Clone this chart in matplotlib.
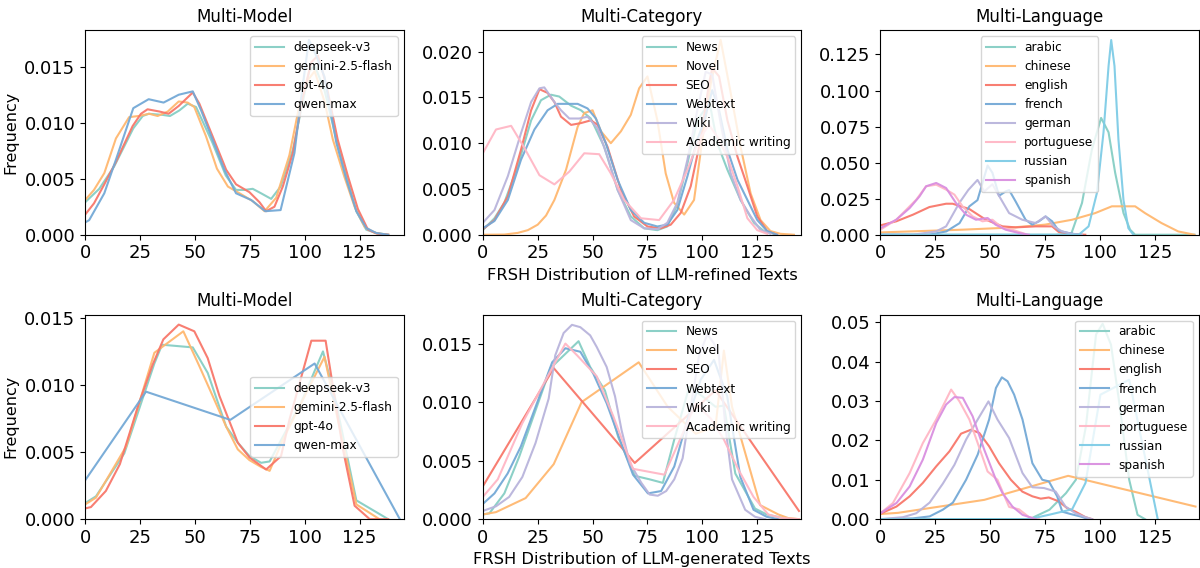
import matplotlib
matplotlib.use("Agg")
import matplotlib.pyplot as plt

# colours shared by the series of each panel
colors = ['#86CEC4', '#FFB870', '#F8776A', '#74A9D6', '#B9B4DC', '#FFB7C5', '#7ECCE6', '#D98FE0']

models = ['deepseek-v3', 'gemini-2.5-flash', 'gpt-4o', 'qwen-max']
categories = ['News', 'Novel', 'SEO', 'Webtext', 'Wiki', 'Academic writing']
languages = ['arabic', 'chinese', 'english', 'french', 'german', 'portuguese', 'russian', 'spanish']

# ---- LLM-refined, multi-model ----
ref_model_x = [
    [0, 6.4, 13.2, 21.9, 26.2, 28.9, 35.3, 38.6, 42.9, 46.7, 50.5, 58, 64, 68.7, 72.5, 76.3, 80.1, 84.7, 89, 94.6, 102, 104.5, 109, 114.4, 119, 123.5, 128, 132.6, 138],
    [0, 4, 8.7, 14, 20, 24.3, 29.2, 33, 37.6, 42.6, 46.7, 49.7, 55, 60, 65, 70.3, 76.3, 81.7, 87, 93, 97.6, 101.4, 104.5, 109, 112.8, 118, 122.7, 127.3, 132, 138],
    [0, 4, 8.7, 14, 21.6, 25.4, 28.4, 33.8, 38, 42.6, 49, 52, 58, 64.2, 68.7, 74.8, 79.4, 82.4, 86.2, 90, 94.6, 99.1, 103, 106, 109.8, 115, 119.7, 124.2, 128.8, 133, 138],
    [0, 1.8, 8.7, 14, 21.9, 28.9, 35.7, 42.6, 49, 52.8, 58, 63.4, 68.7, 75.6, 82, 89, 95.3, 98.8, 101.9, 105.2, 109, 114.4, 119, 123.5, 128, 132.6, 138],
]
ref_model_y = [
    [0.0029, 0.0041, 0.0061, 0.0095, 0.0106, 0.0108, 0.0107, 0.0106, 0.0111, 0.0117, 0.0114, 0.0082, 0.0053, 0.0040, 0.0040, 0.0041, 0.0037, 0.0032, 0.0043, 0.0076, 0.0146, 0.0151, 0.0129, 0.0085, 0.0052, 0.0021, 0.00045, 0.00015, 0],
    [0.0031, 0.0040, 0.0055, 0.0086, 0.0105, 0.0106, 0.0108, 0.0106, 0.0110, 0.0119, 0.0118, 0.0114, 0.0088, 0.0059, 0.0043, 0.0037, 0.0030, 0.0021, 0.0033, 0.0071, 0.0116, 0.0138, 0.0146, 0.0119, 0.0085, 0.0052, 0.0025, 0.0007, 0.00015, 0],
    [0.0018, 0.0028, 0.0045, 0.0065, 0.0097, 0.0108, 0.0112, 0.0110, 0.0108, 0.0115, 0.0127, 0.0117, 0.0088, 0.0058, 0.0045, 0.0038, 0.0029, 0.0021, 0.0025, 0.0043, 0.0073, 0.0123, 0.0154, 0.0160, 0.0134, 0.0085, 0.0052, 0.0023, 0.00045, 0.0001, 0],
    [0.0011, 0.0013, 0.0037, 0.0067, 0.0113, 0.0121, 0.0118, 0.0125, 0.0128, 0.0111, 0.0085, 0.0058, 0.0037, 0.0031, 0.0021, 0.0022, 0.0073, 0.0129, 0.0174, 0.0160, 0.0141, 0.0082, 0.0049, 0.0021, 0.0006, 0.00015, 0],
]

# ---- LLM-refined, multi-category ----
ref_cat_x = [
    [0, 5.3, 9.8, 15.9, 22, 26.5, 31, 34.8, 40.2, 44.7, 49.2, 55.3, 61.4, 67.4, 73.5, 79.5, 84, 88.6, 93.2, 97.7, 100.8, 103, 106.8, 111.4, 117.4, 123.5, 128, 134],
    [0, 9.8, 15.9, 20.5, 25, 28.8, 32.6, 37.9, 43.2, 46.2, 50, 53.8, 58.3, 62.9, 67.4, 71.2, 75, 79.5, 83.3, 87.1, 91.7, 96.2, 100, 103.8, 108.3, 112.9, 117.4, 122, 126.5, 131, 135.6, 141.7],
    [0, 5.3, 11.4, 17.4, 22, 25.8, 29.5, 32.6, 35.6, 40.2, 44.7, 49.2, 52.3, 56.8, 62.9, 68.9, 75, 81, 85.6, 90.2, 94.7, 99.2, 103, 104.5, 107.6, 111.4, 116, 120.5, 125, 129.5, 134],
    [0, 5.3, 11.4, 17.4, 23.5, 29.5, 34.1, 39.4, 43.2, 47.7, 51.5, 56, 61.4, 67.4, 73.5, 79.5, 84, 88.6, 93.2, 97.7, 100.8, 104.5, 107.6, 111.4, 116, 120.5, 125, 129.5, 134],
    [0, 5.3, 11.4, 17.4, 22, 25.8, 28, 32.6, 35.6, 39.4, 43.9, 47.7, 52.3, 56.8, 61.4, 67.4, 73.5, 79.5, 84, 88.6, 93.2, 97.7, 101.5, 104.5, 108.3, 112.9, 117.4, 122, 126.5, 131],
    [0, 6, 12.9, 18.9, 25.8, 32.6, 39.4, 46.2, 53, 58.3, 64.4, 72, 80.3, 87.1, 93.2, 98.5, 103, 106.8, 111.4, 116, 120.5, 125, 129.5],
]
ref_cat_y = [
    [0.0005, 0.0018, 0.0035, 0.0075, 0.0125, 0.0147, 0.0153, 0.0151, 0.0141, 0.0136, 0.0127, 0.0096, 0.0049, 0.0020, 0.0007, 0.0005, 0.0009, 0.0033, 0.0078, 0.0125, 0.0136, 0.0148, 0.0100, 0.0071, 0.0038, 0.0013, 0.0004, 0],
    [0, 0.00002, 0.0002, 0.0005, 0.0011, 0.0021, 0.0038, 0.0071, 0.0118, 0.0133, 0.0136, 0.0113, 0.0100, 0.0113, 0.0131, 0.0160, 0.0173, 0.0125, 0.0067, 0.0035, 0.0022, 0.0038, 0.0104, 0.0165, 0.0213, 0.0155, 0.0096, 0.0045, 0.0016, 0.0004, 0.0001, 0],
    [0.0006, 0.0016, 0.0042, 0.0093, 0.0136, 0.0159, 0.0155, 0.0145, 0.0129, 0.0120, 0.0122, 0.0125, 0.0120, 0.0096, 0.0049, 0.0020, 0.0009, 0.0007, 0.0011, 0.0024, 0.0053, 0.0104, 0.0165, 0.0182, 0.0173, 0.0125, 0.0085, 0.0053, 0.0020, 0.0004, 0],
    [0.0007, 0.0015, 0.0038, 0.0082, 0.0115, 0.0136, 0.0143, 0.0143, 0.0143, 0.0138, 0.0127, 0.0100, 0.0060, 0.0027, 0.0013, 0.0009, 0.0011, 0.0027, 0.0064, 0.0104, 0.0124, 0.0158, 0.0136, 0.0093, 0.0060, 0.0038, 0.0016, 0.0004, 0],
    [0.0013, 0.0027, 0.0064, 0.0111, 0.0145, 0.0160, 0.0161, 0.0145, 0.0136, 0.0127, 0.0127, 0.0129, 0.0116, 0.0085, 0.0049, 0.0016, 0.0007, 0.0006, 0.0013, 0.0035, 0.0082, 0.0136, 0.0178, 0.0175, 0.0122, 0.0067, 0.0038, 0.0020, 0.0005, 0.0001],
    [0.0089, 0.0115, 0.0119, 0.0095, 0.0065, 0.0055, 0.0069, 0.0089, 0.0088, 0.0067, 0.0038, 0.0018, 0.0016, 0.0038, 0.0071, 0.0104, 0.0120, 0.0107, 0.0085, 0.0053, 0.0018, 0.0005, 0.0001],
]

# ---- LLM-refined, multi-language ----
ref_lang_x = [
    [0, 80, 87, 91.8, 96.3, 100.5, 103.9, 106.9, 110.7, 113.7, 116, 143],
    [0, 37.4, 60, 75, 87.3, 97.8, 105.4, 109, 116, 120.5, 128, 135.6, 143],
    [0, 7.2, 14.8, 22.3, 29.9, 32.9, 40.5, 48, 55.6, 61.6, 70.7, 78.2, 81.2, 87.3, 93.3],
    [0, 22, 30, 36, 40.5, 44.2, 48.8, 51, 54, 57, 58.6, 61.6, 66.1, 69.1, 72.2, 75.2, 78.2, 81.2, 85.7, 90.3],
    [0, 14.8, 25.4, 29.9, 35.9, 40, 44.2, 47.3, 51, 54, 58.6, 64.6, 70.7, 75.2, 79, 82.7, 87.3, 91.8],
    [0, 7.2, 11.8, 16.3, 20.8, 25.4, 29.9, 33.7, 37.4, 42, 46.5, 51, 55.6, 60, 66],
    [0, 90.3, 94.8, 98.6, 101.6, 103.9, 105.1, 106.6, 108.4, 110.7, 112.9, 115.2],
    [0, 7.2, 13.3, 17.8, 20.8, 25.4, 29.9, 34.4, 39, 43.5, 48.8, 52.5, 57, 63, 67.6],
]
ref_lang_y = [
    [0, 0, 0.001, 0.022, 0.059, 0.081, 0.071, 0.043, 0.015, 0.0035, 0, 0],
    [0.0016, 0.0035, 0.005, 0.007, 0.0104, 0.015, 0.0197, 0.0197, 0.0197, 0.015, 0.0081, 0.0023, 0],
    [0.0065, 0.0093, 0.0139, 0.0192, 0.0215, 0.0215, 0.0178, 0.0104, 0.0058, 0.0051, 0.0058, 0.0058, 0.0019, 0.0005, 0],
    [0, 0, 0.0023, 0.008, 0.0197, 0.024, 0.048, 0.043, 0.027, 0.030, 0.031, 0.023, 0.0104, 0.007, 0.0093, 0.0127, 0.0093, 0.0028, 0.0012, 0],
    [0, 0, 0.0023, 0.0058, 0.022, 0.031, 0.038, 0.030, 0.035, 0.027, 0.015, 0.0104, 0.0081, 0.0127, 0.0058, 0.0023, 0.0005, 0],
    [0.0035, 0.0104, 0.0174, 0.0243, 0.0336, 0.0347, 0.0313, 0.0278, 0.0197, 0.0127, 0.0093, 0.0104, 0.0046, 0.0035, 0.0005],
    [0, 0, 0.0058, 0.029, 0.071, 0.117, 0.135, 0.117, 0.066, 0.024, 0.0046, 0],
    [0.0046, 0.0104, 0.0185, 0.0266, 0.0336, 0.0359, 0.0324, 0.022, 0.0139, 0.0104, 0.0116, 0.0069, 0.0035, 0.0012, 0],
]

# ---- LLM-generated, multi-model ----
gen_model_x = [
    [0, 4.9, 17.8, 31.5, 35, 49, 55.8, 64.2, 69.5, 74.8, 80.1, 84, 98.4, 108.3, 113.6, 123.5, 138],
    [0, 4.9, 18.6, 31.5, 44.7, 52, 58, 64.2, 69.5, 74.8, 80, 84, 90, 97.6, 109, 114.4, 123.5, 134],
    [0, 2.6, 9.4, 15.8, 24.6, 30.7, 35.6, 42.6, 49.7, 55.8, 61.1, 69.5, 74.8, 82.4, 89.2, 93, 103, 109.5, 117.4, 122.7, 129.6, 138],
    [0, 27.7, 66.1, 104.5, 143.3],
]
gen_model_y = [
    [0.0012, 0.0017, 0.0049, 0.0116, 0.0130, 0.0128, 0.0109, 0.0069, 0.0057, 0.0047, 0.0042, 0.0043, 0.0087, 0.0125, 0.0092, 0.0014, 0],
    [0.0011, 0.0016, 0.0054, 0.0124, 0.0140, 0.0114, 0.0092, 0.0069, 0.0052, 0.0044, 0.0039, 0.0036, 0.0059, 0.0084, 0.0121, 0.0079, 0.0011, 0],
    [0.0008, 0.0009, 0.0021, 0.0041, 0.0087, 0.0115, 0.0134, 0.0145, 0.0140, 0.0120, 0.0092, 0.0057, 0.0046, 0.0037, 0.0047, 0.0074, 0.0133, 0.0133, 0.0052, 0.0010, 0, 0],
    [0.0029, 0.0095, 0.0074, 0.0116, 0],
]

# ---- LLM-generated, multi-category ----
gen_cat_x = [
    [0, 3, 9.8, 16.5, 30.8, 43.6, 48.9, 55.6, 61.7, 69.2, 76, 82, 87.2, 94, 100, 106, 109.8, 115, 124, 129.3, 139],
    [0, 6, 19.5, 32.3, 45, 71, 84.2, 97, 106, 109.8, 113.5, 126.3, 134.6, 139, 144],
    [0, 32.3, 69.2, 106, 144],
    [0, 5.3, 11.3, 17.3, 31.6, 37.6, 44.4, 50.4, 56.4, 62.4, 68.4, 75.2, 81.2, 87.2, 93.2, 99.2, 105.3, 111.3, 117.3, 123.3, 129.3, 134.6],
    [0, 6, 12, 18, 24, 30, 33, 36.8, 40.6, 44.4, 48.9, 51.9, 56.4, 60.2, 63.2, 66.9, 72.2, 76, 79.7, 83.5, 87.2, 91, 94.7, 98.5, 102.3, 105.3, 107.5, 110.5, 113.5, 119.5, 124, 128.6],
    [0, 6.8, 18, 37.6, 42.9, 51.9, 59.4, 68.4, 82.7, 91, 97, 103.8, 109.8, 116.5, 123.3, 130, 136, 144],
]
gen_cat_y = [
    [0.0004, 0.0005, 0.0022, 0.0053, 0.0129, 0.0152, 0.0130, 0.0110, 0.0070, 0.0037, 0.0034, 0.0031, 0.0068, 0.0113, 0.0105, 0.0096, 0.0097, 0.0039, 0.0009, 0.0004, 0],
    [0.0004, 0.0006, 0.0018, 0.0047, 0.0100, 0.0134, 0.0096, 0.0073, 0.0079, 0.0144, 0.0096, 0.0012, 0.0004, 0.0001, 0],
    [0.0028, 0.0129, 0.0048, 0.0110, 0.0007],
    [0.0013, 0.0022, 0.0039, 0.0062, 0.0134, 0.0146, 0.0143, 0.0124, 0.0099, 0.0068, 0.0038, 0.0022, 0.0024, 0.0045, 0.0085, 0.0119, 0.0136, 0.0105, 0.0036, 0.0008, 0.0002, 0],
    [0.0007, 0.0011, 0.0019, 0.0036, 0.0065, 0.0103, 0.0140, 0.0159, 0.0166, 0.0164, 0.0157, 0.0147, 0.0130, 0.0105, 0.0076, 0.0048, 0.0031, 0.0021, 0.0020, 0.0024, 0.0034, 0.0052, 0.0096, 0.0140, 0.0158, 0.0150, 0.0140, 0.0079, 0.0034, 0.0008, 0.0002, 0],
    [0.0019, 0.0034, 0.0082, 0.0150, 0.0140, 0.0122, 0.0088, 0.0043, 0.0038, 0.0073, 0.0099, 0.0086, 0.0068, 0.0042, 0.0019, 0.0004, 0.0001, 0],
]

# ---- LLM-generated, multi-language ----
gen_lang_x = [
    [0, 67.9, 77, 84.5, 89, 93.6, 98.2, 101.2, 105, 108.8, 113.3, 117.1, 120.5],
    [0, 8, 47.3, 85.5, 143.5],
    [0, 7.3, 13.3, 19.3, 25.4, 31.4, 36.7, 41.2, 45, 49.5, 54, 59.4, 64.6, 69.2, 73, 76.7, 81.3, 85, 88.8, 93.4, 96.4],
    [0, 14.8, 22.4, 28.4, 33, 39, 44.3, 49.5, 52.6, 55.3, 57.9, 60.9, 64.7, 69.2, 73.7, 76.7, 80.5, 82.8, 86.6, 91, 94.9],
    [0, 10.3, 16.3, 22.4, 28.4, 33.7, 39, 44.3, 49.2, 53.3, 58.6, 64.7, 69.2, 74.5, 79.8, 84.3, 88.8, 93.4, 96.4],
    [0, 5.7, 13.3, 19.3, 25.4, 32.2, 36, 40.5, 44.3, 48.8, 53.3, 58.6, 63.1, 67.7, 72.2],
    [0, 67.7, 76.7, 87.3, 93.4, 100.2, 113.3, 126.3],
    [0, 7.3, 13.3, 19.3, 25.4, 29.9, 33.7, 37.5, 42, 47.3, 52.6, 55.6, 60.1, 64.7, 70.7],
]
gen_lang_y = [
    [0, 0, 0.0024, 0.0066, 0.010, 0.0236, 0.0469, 0.0496, 0.0443, 0.0295, 0.0100, 0.0011, 0],
    [0.0013, 0.0016, 0.0049, 0.0110, 0.0032],
    [0.0014, 0.0032, 0.0058, 0.0092, 0.0134, 0.0172, 0.0217, 0.0227, 0.0219, 0.0185, 0.0142, 0.0100, 0.0070, 0.0058, 0.0052, 0.0055, 0.0045, 0.0028, 0.0019, 0.0005, 0],
    [0, 0.0002, 0.0007, 0.0024, 0.0042, 0.0100, 0.0164, 0.0253, 0.0333, 0.0360, 0.0350, 0.0316, 0.0253, 0.0142, 0.0100, 0.0096, 0.0058, 0.0019, 0.0013, 0.0007, 0],
    [0, 0.0005, 0.0015, 0.0042, 0.0090, 0.0138, 0.0202, 0.0253, 0.0299, 0.0253, 0.0206, 0.0117, 0.0081, 0.0079, 0.0070, 0.0032, 0.0015, 0.0005, 0],
    [0.0015, 0.0041, 0.0117, 0.0193, 0.0253, 0.0329, 0.0299, 0.0253, 0.0193, 0.0121, 0.0100, 0.0031, 0.0025, 0.0005, 0],
    [0, 0, 0.0011, 0.0025, 0.0092, 0.0316, 0.0354, 0],
    [0.0015, 0.0041, 0.0083, 0.0151, 0.0244, 0.0291, 0.0310, 0.0308, 0.0261, 0.0176, 0.0100, 0.0066, 0.0032, 0.0011, 0],
]

panels = [
    (0, 0, 'Multi-Model', models, ref_model_x, ref_model_y, 0.01827, 'upper right'),
    (0, 1, 'Multi-Category', categories, ref_cat_x, ref_cat_y, 0.02236, 'upper right'),
    (0, 2, 'Multi-Language', languages, ref_lang_x, ref_lang_y, 0.1419, 'upper center'),
    (1, 0, 'Multi-Model', models, gen_model_x, gen_model_y, 0.01525, 'center right'),
    (1, 1, 'Multi-Category', categories, gen_cat_x, gen_cat_y, 0.01748, 'upper right'),
    (1, 2, 'Multi-Language', languages, gen_lang_x, gen_lang_y, 0.05195, 'upper right'),
]

fig, axes = plt.subplots(2, 3, figsize=(12, 5.68), dpi=100)
fig.subplots_adjust(left=0.071, right=0.999, top=0.947, bottom=0.086, wspace=0.249, hspace=0.39)

for r, c, title, names, xs, ys, ytop, loc in panels:
    ax = axes[r, c]
    for i, name in enumerate(names):
        ax.plot(xs[i], ys[i], color=colors[i], lw=1.5, alpha=0.95, label=name)
    ax.set_xlim(0, 145)
    ax.set_ylim(0, ytop)
    ax.set_xticks([0, 25, 50, 75, 100, 125])
    ax.set_title(title, fontsize=12)
    ax.tick_params(labelsize=13)
    ax.legend(loc=loc, fontsize=8.7, handlelength=2.4)
    if c == 0:
        ax.set_ylabel('Frequency', fontsize=11.5)

axes[0, 0].set_yticks([0, 0.005, 0.010, 0.015])
axes[1, 0].set_yticks([0, 0.005, 0.010, 0.015])
axes[0, 1].set_yticks([0, 0.005, 0.010, 0.015, 0.020])
axes[1, 1].set_yticks([0, 0.005, 0.010, 0.015])
axes[0, 2].set_yticks([0, 0.025, 0.05, 0.075, 0.1, 0.125])
axes[1, 2].set_yticks([0, 0.01, 0.02, 0.03, 0.04, 0.05])
for ax in axes.flat:
    ax.yaxis.set_major_formatter(matplotlib.ticker.FormatStrFormatter('%.3f'))
axes[1, 2].yaxis.set_major_formatter(matplotlib.ticker.FormatStrFormatter('%.2f'))

axes[0, 1].set_xlabel('FRSH Distribution of LLM-refined Texts', fontsize=11.7)
axes[1, 1].set_xlabel('FRSH Distribution of LLM-generated Texts', fontsize=11.7)

fig.savefig('out.png', dpi=100)
